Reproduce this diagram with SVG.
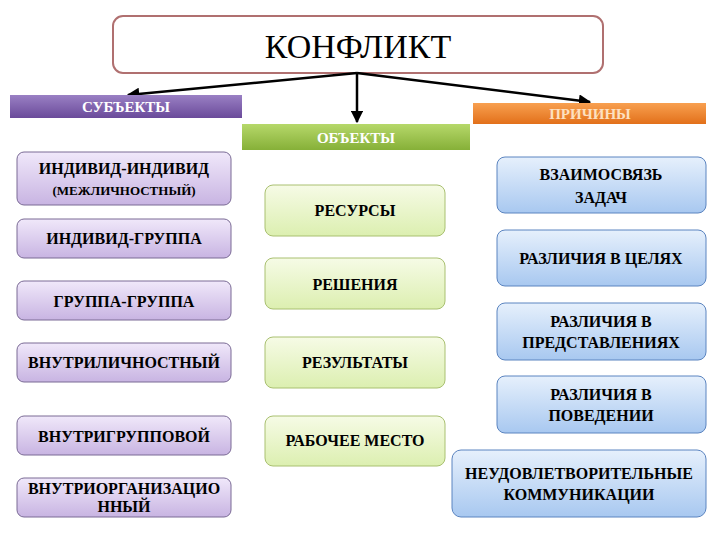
<svg xmlns="http://www.w3.org/2000/svg" width="720" height="540" viewBox="0 0 720 540">
<style>
text{font-family:"Liberation Serif","DejaVu Serif","Times New Roman",serif;font-weight:bold;font-size:16px;text-anchor:middle;fill:#000}
.hdr{fill:#fff;font-size:15px}
.p{fill:url(#gp);stroke:#7a6a95;stroke-width:1}
.g{fill:url(#gg);stroke:#a9c070;stroke-width:1}
.b{fill:url(#gb);stroke:#5b84c0;stroke-width:1}
</style>
<defs>
<linearGradient id="gp" x1="0" y1="0" x2="0" y2="1"><stop offset="0" stop-color="#f0e8fa"/><stop offset="1" stop-color="#c8b4e2"/></linearGradient>
<linearGradient id="gg" x1="0" y1="0" x2="0" y2="1"><stop offset="0" stop-color="#f6fbe6"/><stop offset="1" stop-color="#dcefb0"/></linearGradient>
<linearGradient id="gb" x1="0" y1="0" x2="0" y2="1"><stop offset="0" stop-color="#e6f0fc"/><stop offset="1" stop-color="#a8c8f0"/></linearGradient>
<linearGradient id="hp" x1="0" y1="0" x2="0" y2="1"><stop offset="0" stop-color="#9a80c4"/><stop offset="1" stop-color="#6a4a9a"/></linearGradient>
<linearGradient id="hg" x1="0" y1="0" x2="0" y2="1"><stop offset="0" stop-color="#b6d86a"/><stop offset="1" stop-color="#86b038"/></linearGradient>
<linearGradient id="ho" x1="0" y1="0" x2="0" y2="1"><stop offset="0" stop-color="#f8a050"/><stop offset="1" stop-color="#e2701a"/></linearGradient>
<marker id="ah" viewBox="0 0 10 10" refX="9" refY="5" markerWidth="5" markerHeight="5" orient="auto"><path d="M0,0L10,5L0,10z" fill="#000"/></marker>
</defs>
<g id="conflict"><rect x="113" y="16" width="490" height="57" rx="10" fill="#fff" stroke="#b07070" stroke-width="2"/><text x="358" y="58" style="font-weight:normal;font-size:34px">КОНФЛИКТ</text></g>
<g id="connectors" stroke="#000" stroke-width="2.5" fill="none">
<line x1="357" y1="73" x2="128" y2="95" marker-end="url(#ah)"/>
<line x1="357" y1="73" x2="357" y2="122" marker-end="url(#ah)"/>
<line x1="357" y1="73" x2="590" y2="102" marker-end="url(#ah)"/>
</g>
<g id="subjects"><rect x="10" y="95" width="232" height="23" fill="url(#hp)"/><text class="hdr" x="126" y="112">СУБЪЕКТЫ</text></g>
<g id="objects"><rect x="242" y="124" width="228" height="26" fill="url(#hg)"/><text class="hdr" x="356" y="143">ОБЪЕКТЫ</text></g>
<g id="causes"><rect x="473" y="103" width="233" height="21" fill="url(#ho)"/><text class="hdr" x="590" y="119" style="fill:#fde0c0">ПРИЧИНЫ</text></g>
<g id="s1"><rect class="p" x="17" y="152" width="214" height="53" rx="7"/><text x="124" y="174">ИНДИВИД-ИНДИВИД</text><text x="124" y="195" style="font-size:13px">(МЕЖЛИЧНОСТНЫЙ)</text></g>
<g id="s2"><rect class="p" x="17" y="219" width="214" height="39" rx="7"/><text x="124" y="244">ИНДИВИД-ГРУППА</text></g>
<g id="s3"><rect class="p" x="17" y="281" width="214" height="39" rx="7"/><text x="124" y="307">ГРУППА-ГРУППА</text></g>
<g id="s4"><rect class="p" x="17" y="343" width="214" height="39" rx="7"/><text x="124" y="368">ВНУТРИЛИЧНОСТНЫЙ</text></g>
<g id="s5"><rect class="p" x="17" y="416" width="214" height="39" rx="7"/><text x="124" y="442">ВНУТРИГРУППОВОЙ</text></g>
<g id="s6"><rect class="p" x="17" y="478" width="214" height="39" rx="7"/><text x="124" y="494">ВНУТРИОРГАНИЗАЦИО</text><text x="124" y="512">ННЫЙ</text></g>
<g id="o1"><rect class="g" x="265" y="185" width="180" height="51" rx="8"/><text x="355" y="216">РЕСУРСЫ</text></g>
<g id="o2"><rect class="g" x="265" y="258" width="180" height="51" rx="8"/><text x="355" y="290">РЕШЕНИЯ</text></g>
<g id="o3"><rect class="g" x="265" y="337" width="180" height="51" rx="8"/><text x="355" y="368">РЕЗУЛЬТАТЫ</text></g>
<g id="o4"><rect class="g" x="265" y="416" width="180" height="50" rx="8"/><text x="355" y="446">РАБОЧЕЕ МЕСТО</text></g>
<g id="c1"><rect class="b" x="497" y="157" width="209" height="56" rx="8"/><text x="601" y="180">ВЗАИМОСВЯЗЬ</text><text x="601" y="203">ЗАДАЧ</text></g>
<g id="c2"><rect class="b" x="497" y="230" width="209" height="56" rx="8"/><text x="601" y="264">РАЗЛИЧИЯ В ЦЕЛЯХ</text></g>
<g id="c3"><rect class="b" x="497" y="303" width="209" height="57" rx="8"/><text x="601" y="327">РАЗЛИЧИЯ В</text><text x="601" y="348">ПРЕДСТАВЛЕНИЯХ</text></g>
<g id="c4"><rect class="b" x="497" y="376" width="209" height="57" rx="8"/><text x="601" y="400">РАЗЛИЧИЯ В</text><text x="601" y="421">ПОВЕДЕНИИ</text></g>
<g id="c5"><rect class="b" x="452" y="450" width="254" height="67" rx="9"/><text x="579" y="479">НЕУДОВЛЕТВОРИТЕЛЬНЫЕ</text><text x="579" y="500">КОММУНИКАЦИИ</text></g>
</svg>
